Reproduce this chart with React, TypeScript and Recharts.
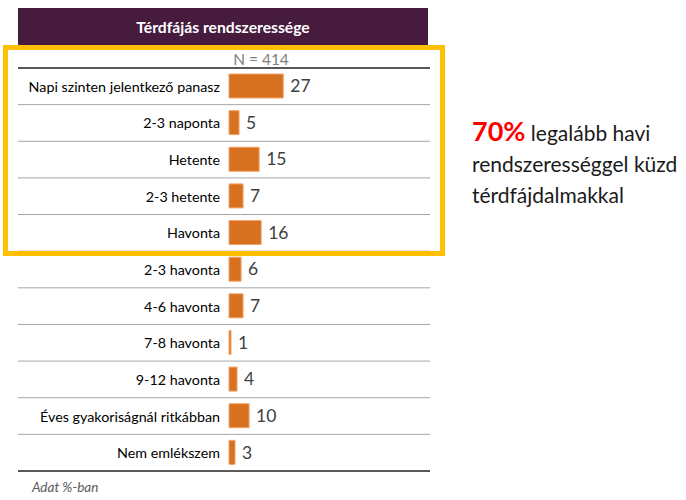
import React from "react";
import { BarChart, Bar, XAxis, YAxis, LabelList } from "recharts";

const categories = [
  "Napi szinten jelentkező panasz",
  "2-3 naponta",
  "Hetente",
  "2-3 hetente",
  "Havonta",
  "2-3 havonta",
  "4-6 havonta",
  "7-8 havonta",
  "9-12 havonta",
  "Éves gyakoriságnál ritkábban",
  "Nem emlékszem",
];
const values = [27, 5, 15, 7, 16, 6, 7, 1, 4, 10, 3];

const title = "Térdfájás rendszeressége";
const sampleLabel = "N = 414";
const footnote = "Adat %-ban";
const highlight = "70%";
const highlightText = ["legalább havi", "rendszerességgel küzd", "térdfájdalmakkal"];

const data = categories.map((name, i) => ({ name, value: values[i] }));

const FONT = "Lato, 'Open Sans', sans-serif";
const PLOT_TOP = 68;
const PLOT_H = 403;
const ROW_H = PLOT_H / categories.length;

const CategoryTick = (props: any) => {
  const { x, y, payload, index } = props;
  const last = index === categories.length - 1;
  return (
    <g>
      <text
        x={x}
        y={y}
        textAnchor="end"
        dominantBaseline="central"
        fontFamily={FONT}
        fontSize={14.3}
        fill="#000"
      >
        {payload.value}
      </text>
      {index === 0 && (
        <line x1={18} x2={430} y1={y - ROW_H / 2} y2={y - ROW_H / 2} stroke="#595959" strokeWidth={2} />
      )}
      <line
        x1={18}
        x2={430}
        y1={y + ROW_H / 2}
        y2={y + ROW_H / 2}
        stroke={last ? "#595959" : "#a6a6a6"}
        strokeWidth={last ? 2 : 1}
      />
    </g>
  );
};

export default function App() {
  return (
    <div style={{ position: "absolute", left: 0, top: 0, width: 686, height: 500, background: "#fff", fontFamily: FONT, overflow: "hidden" }}>
      <div
        style={{
          position: "absolute",
          left: 18,
          top: 8,
          width: 410,
          height: 37,
          background: "#461B3D",
          color: "#fff",
          fontWeight: 700,
          fontSize: 15.7,
          display: "flex",
          alignItems: "center",
          justifyContent: "center",
        }}
      >
        {title}
      </div>
      <div
        style={{
          position: "absolute",
          left: 221,
          top: 49,
          width: 80,
          textAlign: "center",
          fontSize: 15.5,
          color: "#7f7f7f",
          lineHeight: "20px",
        }}
      >
        {sampleLabel}
      </div>
      <div style={{ position: "absolute", left: 0, top: 0 }}>
        <BarChart
          width={430}
          height={500}
          data={data}
          layout="vertical"
          margin={{ top: PLOT_TOP, right: 0, bottom: 500 - PLOT_TOP - PLOT_H, left: 18 }}
          barCategoryGap={0}
        >
          <XAxis type="number" domain={[0, 100]} hide />
          <YAxis
            type="category"
            dataKey="name"
            width={211}
            axisLine={false}
            tickLine={false}
            tickMargin={3}
            interval={0}
            tick={<CategoryTick />}
          />
          <Bar dataKey="value" fill="#D8711F" stroke="#F0A36A" strokeWidth={1} barSize={24} isAnimationActive={false}>
            <LabelList dataKey="value" position="right" offset={7} fill="#404040" fontSize={17.5} fontFamily={FONT} />
          </Bar>
        </BarChart>
      </div>
      <div
        style={{
          position: "absolute",
          left: 3,
          top: 45,
          width: 442,
          height: 211,
          boxSizing: "border-box",
          border: "5px solid #FFC000",
          pointerEvents: "none",
        }}
      />
      <div
        style={{
          position: "absolute",
          left: 32,
          top: 479,
          fontSize: 13.5,
          fontStyle: "italic",
          color: "#595959",
        }}
      >
        {footnote}
      </div>
      <div
        style={{
          position: "absolute",
          left: 472,
          top: 115,
          fontSize: 21,
          lineHeight: "31px",
          color: "#1a1a1a",
          whiteSpace: "nowrap",
        }}
      >
        <div>
          <span style={{ color: "#FF0000", fontWeight: 700, fontSize: 27 }}>{highlight}</span> {highlightText[0]}
        </div>
        <div>{highlightText[1]}</div>
        <div>{highlightText[2]}</div>
      </div>
    </div>
  );
}
